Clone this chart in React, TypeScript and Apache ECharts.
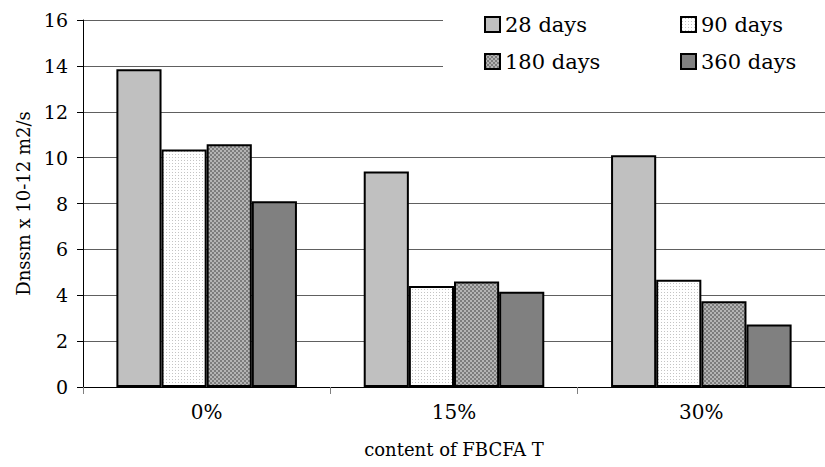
import React, { useEffect, useRef } from "react";
import * as echarts from "echarts";

const categories = ["0%", "15%", "30%"];
const seriesNames = ["28 days", "90 days", "180 days", "360 days"];
const days28 = [13.85, 9.4, 10.1];
const days90 = [10.35, 4.4, 4.68];
const days180 = [10.58, 4.6, 3.74];
const days360 = [8.1, 4.15, 2.73];
const yTicks = [0, 2, 4, 6, 8, 10, 12, 14, 16];

const FONT = "DejaVu Serif";

function makePattern(size: number, draw: (ctx: CanvasRenderingContext2D) => void) {
  const c = document.createElement("canvas");
  c.width = size;
  c.height = size;
  const ctx = c.getContext("2d")!;
  draw(ctx);
  return { image: c, repeat: "repeat", imageWidth: size, imageHeight: size } as any;
}

export default function App() {
  const ref = useRef<HTMLDivElement>(null);
  useEffect(() => {
    if (!ref.current) return;
    const chart = echarts.init(ref.current, undefined, { renderer: "svg" });

    const dots = makePattern(3, (ctx) => {
      ctx.fillStyle = "#ffffff";
      ctx.fillRect(0, 0, 3, 3);
      ctx.fillStyle = "#c4c4c4";
      ctx.fillRect(1, 1, 1, 1);
    });
    const checker = makePattern(4, (ctx) => {
      ctx.fillStyle = "#b4b4b4";
      ctx.fillRect(0, 0, 4, 4);
      ctx.fillStyle = "#7c7c7c";
      ctx.fillRect(0, 0, 2, 2);
      ctx.fillRect(2, 2, 2, 2);
    });

    const colors = ["#c0c0c0", dots, checker, "#808080"];
    const values = [days28, days90, days180, days360];

    const series = seriesNames.map((name, i) => ({
      name,
      type: "bar",
      data: values[i],
      barGap: "0%",
      barCategoryGap: "27%",
      itemStyle: { color: colors[i], borderColor: "#000", borderWidth: 2 },
      z: 2,
    }));

    const legendCommon = {
      orient: "vertical",
      top: 14,
      padding: 0,
      itemGap: 16,
      itemWidth: 15,
      itemHeight: 15,
      icon: "rect",
      textStyle: { fontFamily: FONT, fontSize: 21, color: "#000" },
      selectedMode: false,
      z: 5,
    };

    chart.setOption({
      animation: false,
      backgroundColor: "#fff",
      grid: { left: 83, right: -10, top: 20, bottom: 80, containLabel: false },
      legend: [
        { ...legendCommon, left: 484, data: ["28 days", "180 days"] },
        { ...legendCommon, left: 680, data: ["90 days", "360 days"] },
      ],
      graphic: [
        {
          type: "rect",
          z: 3,
          shape: { x: 443, y: 4, width: 400, height: 82 },
          style: { fill: "#fff" },
        },
      ],
      xAxis: {
        type: "category",
        data: categories,
        axisLine: { show: true, lineStyle: { color: "#000", width: 1 } },
        axisTick: { show: true, length: 7, lineStyle: { color: "#808080" } },
        axisLabel: { fontFamily: FONT, fontSize: 20, color: "#000", margin: 15 },
        name: "content of FBCFA T",
        nameLocation: "middle",
        nameGap: 53,
        nameTextStyle: { fontFamily: FONT, fontSize: 18, color: "#000" },
      },
      yAxis: {
        type: "value",
        min: yTicks[0],
        max: yTicks[yTicks.length - 1],
        interval: 2,
        axisLine: { show: true, lineStyle: { color: "#000", width: 1 } },
        axisTick: { show: true, length: 6, lineStyle: { color: "#000" } },
        axisLabel: { fontFamily: FONT, fontSize: 19, color: "#000", margin: 15 },
        splitLine: { show: true, lineStyle: { color: "#606060", width: 1 } },
        name: "Dnssm x 10-12 m2/s",
        nameLocation: "middle",
        nameGap: 51,
        nameTextStyle: { fontFamily: FONT, fontSize: 18, color: "#000" },
      },
      series,
    });

    return () => chart.dispose();
  }, []);

  return (
    <div style={{ position: "fixed", left: 0, top: 0, width: 825, height: 467, overflow: "hidden", background: "#fff" }}>
      <div ref={ref} style={{ width: 825, height: 467 }} />
    </div>
  );
}
